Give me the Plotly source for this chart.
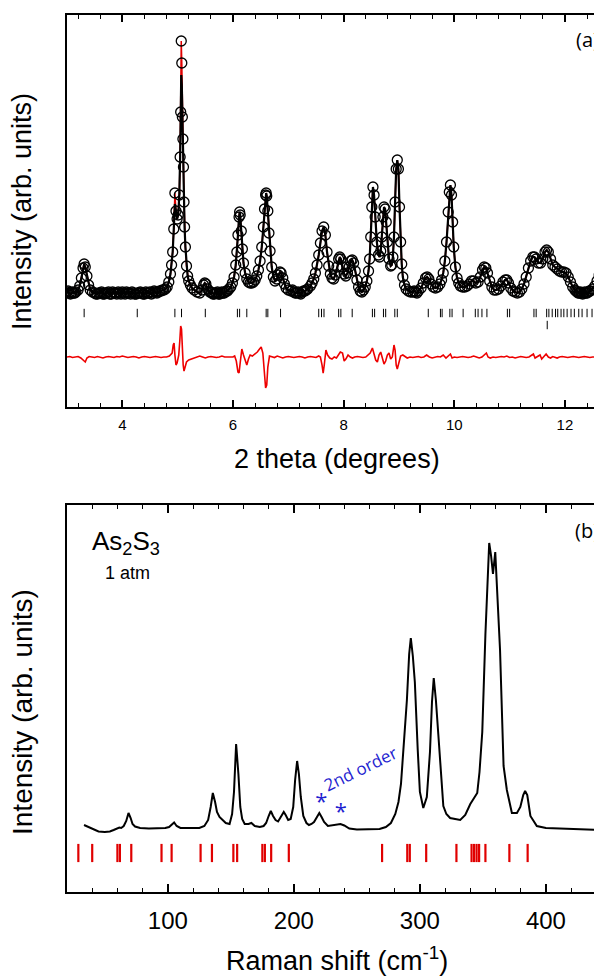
import plotly.graph_objects as go

# ---------------- (a) X-ray diffraction, read segment by segment ----------------
tth_a = [3.00,3.02,3.04,3.06,3.08,3.10,3.12,3.14,3.16,3.20,3.23,3.26,3.29,3.31,3.33,3.36,3.39,3.42,3.46,3.50]
obs_a = [115,116,114,113,114,115,114,114,115,117,121,129,139,143,140,131,122,117,115,114]

tth_b = [3.525,3.55,3.575,3.60,3.625,3.65,3.675,3.70,3.725,3.75,3.775,3.80,3.825,3.85,3.875,3.90,3.925,3.95,3.975,4.00,
         4.025,4.05,4.075,4.10,4.125,4.15,4.175,4.20,4.225,4.25,4.275,4.30,4.325,4.35,4.375,4.40,4.425,4.45,4.475,4.50,
         4.525,4.55,4.575,4.60,4.625,4.65,4.675,4.70,4.725,4.75]
obs_b = [113,113,114,114,115,113,113,114,114,115,113,113,115,114,114,113,115,114,113,115,
         114,113,115,114,114,113,115,114,113,113,114,114,115,114,113,113,115,114,114,115,
         113,114,116,115,114,115,116,116,117,117]

tth_c = [4.78,4.81,4.84,4.87,4.89,4.91,4.93,4.95,4.97,4.99,5.01,5.03,5.045,5.055,5.065,5.075,5.085,5.095,5.105,5.115,
         5.125,5.14,5.16,5.18,5.20,5.23,5.26,5.30,5.35]
obs_c = [118,120,125,133,142,155,178,214,196,188,192,212,250,295,366,344,290,268,240,205,
         180,160,141,131,126,122,119,117,115]
calc_c = [118,120,125,133,142,155,178,203,196,188,192,212,250,295,332,322,290,268,240,205,
          180,160,141,131,126,122,119,117,115]

tth_d = [5.40,5.44,5.47,5.49,5.51,5.54,5.58,5.60,5.62,5.64,5.66,5.68,5.70,5.72,5.74,5.76,5.78,5.80,5.82,5.84,5.86,5.88,5.90,5.93]
obs_d = [114,117,122,124,123,118,115,115,114,113,113,114,114,115,113,113,114,115,114,114,115,116,116,118]

tth_e = [5.96,5.99,6.02,6.05,6.07,6.09,6.11,6.12,6.13,6.15,6.17,6.19,6.22,6.25,6.28,6.31,6.34,6.37,6.40,6.43,
         6.46,6.49,6.52,6.55,6.57,6.59,6.60,6.61,6.63,6.65,6.67,6.70,6.73,6.76,6.79,6.82,6.85,6.87,6.90,6.93,6.96,7.00]
obs_e = [120,124,130,142,155,172,190,195,192,176,158,144,134,128,125,124,124,125,127,131,
         137,146,160,180,198,212,214,211,196,174,156,140,130,126,128,132,135,134,129,123,119,117]

tth_f = [7.05,7.075,7.10,7.125,7.15,7.175,7.20,7.225,7.25,7.275,7.30,7.325,7.35,7.40]
obs_f = [116,117,115,114,114,115,114,113,115,116,116,117,118,121]

tth_g = [7.43,7.46,7.49,7.52,7.55,7.58,7.61,7.64,7.67,7.70,7.73,7.76,7.79,7.82,7.85,7.88,7.91,7.93,7.95,7.98,
         8.01,8.04,8.07,8.10,8.13,8.155,8.18,8.21,8.24,8.27,8.30]
obs_g = [124,128,134,142,152,164,176,180,172,155,141,133,129,128,132,140,148,150,148,140,
         133,131,134,140,146,147,144,136,127,120,116]

tth_h = [8.33,8.36,8.39,8.42,8.45,8.47,8.49,8.51,8.53,8.55,8.57,8.60,8.63,8.65,8.67,8.69,8.71,8.73,8.75,8.77,
         8.79,8.82,8.85,8.87,8.89,8.91,8.93,8.95,8.97,8.99,9.01,9.03,9.05,9.07,9.10,9.13,9.17,9.21]
obs_h = [115,117,120,126,136,148,170,200,220,212,190,165,152,150,156,170,190,200,198,185,
         165,148,141,142,150,170,205,238,247,238,200,165,143,130,122,118,116,115]

tth_i = [9.25,9.275,9.30,9.325,9.35,9.40,9.44,9.48,9.51,9.54,9.58,9.62,9.66,9.70,9.74,9.77,9.80,9.83,9.86,9.89,
         9.91,9.93,9.95,9.97,9.99,10.02,10.05,10.08,10.11,10.15]
obs_i = [115,116,115,114,116,119,124,129,130,128,123,120,119,120,123,127,134,146,165,195,
         215,222,212,185,160,140,129,124,121,120]

tth_j = [10.19,10.23,10.27,10.31,10.35,10.39,10.43,10.47,10.51,10.54,10.57,10.60,10.64,10.68,10.72,10.76,10.80,10.84,10.88,10.92,
         10.95,10.98,11.02,11.06,11.10,11.14]
obs_j = [120,121,123,126,126,124,125,130,137,140,139,134,126,120,117,117,118,121,125,127,
         127,124,119,116,115,114]

tth_k = [11.18,11.22,11.26,11.30,11.34,11.38,11.42,11.45,11.48,11.52,11.56,11.60,11.64,11.67,11.70,11.74,11.78,11.82,11.86,11.90,
         11.94,11.98,12.02,12.06,12.10,12.14,12.18,12.20,12.22,12.24,12.26,12.28,12.30,12.32,12.34,12.36,12.38,12.40,12.42,12.44,
         12.46,12.50,12.54,12.58,12.62,12.66,12.70]
obs_k = [115,118,123,130,139,146,150,150,148,144,144,148,155,157,155,148,142,140,138,136,
         135,135,134,130,125,120,117,116,115,114,114,115,114,113,114,115,114,114,115,116,
         116,118,121,126,132,138,143]

tth = tth_a + tth_b + tth_c + tth_d + tth_e + tth_f + tth_g + tth_h + tth_i + tth_j + tth_k
int_obs = obs_a + obs_b + obs_c + obs_d + obs_e + obs_f + obs_g + obs_h + obs_i + obs_j + obs_k
# the calculated profile coincides with the observed one except around the strongest reflection
int_calc = obs_a + obs_b + calc_c + obs_d + obs_e + obs_f + obs_g + obs_h + obs_i + obs_j + obs_k

tth_diff = [3.00,3.05,3.10,3.15,3.20,3.25,3.30,3.33,3.36,3.40,3.45,3.50,3.55,3.60,3.65,3.70,3.75,3.80,3.85,3.90,3.95,4.00,4.05,4.10,4.15,4.20,4.25,4.30,4.35,4.40,4.45,4.50,4.55,4.60,4.65,4.70,4.75,4.80,4.85,4.90,4.92,4.935,4.95,4.97,4.99,5.02,5.04,5.055,5.07,5.085,5.10,5.115,5.13,5.16,5.20,5.25,5.30,5.35,5.40,5.45,5.50,5.55,5.60,5.65,5.70,5.75,5.80,5.85,5.90,5.95,6.00,6.03,6.06,6.09,6.11,6.13,6.16,6.19,6.22,6.25,6.28,6.31,6.35,6.40,6.44,6.48,6.51,6.54,6.57,6.59,6.61,6.63,6.66,6.70,6.75,6.80,6.85,6.90,6.95,7.00,7.05,7.10,7.15,7.20,7.25,7.30,7.35,7.40,7.45,7.50,7.55,7.58,7.61,7.63,7.65,7.68,7.71,7.75,7.79,7.83,7.87,7.90,7.94,7.98,8.01,8.04,8.08,8.12,8.16,8.20,8.25,8.30,8.35,8.40,8.44,8.48,8.52,8.55,8.58,8.61,8.64,8.67,8.70,8.73,8.76,8.79,8.82,8.85,8.88,8.91,8.93,8.95,8.97,9.00,9.03,9.07,9.11,9.15,9.20,9.25,9.30,9.35,9.40,9.45,9.50,9.55,9.60,9.65,9.70,9.75,9.80,9.85,9.90,9.93,9.96,10.00,10.05,10.10,10.15,10.20,10.25,10.30,10.35,10.40,10.45,10.50,10.55,10.58,10.61,10.65,10.70,10.75,10.80,10.85,10.90,10.95,11.00,11.05,11.10,11.15,11.20,11.25,11.30,11.35,11.40,11.43,11.46,11.50,11.55,11.58,11.62,11.66,11.70,11.74,11.78,11.82,11.86,11.90,11.95,12.00,12.05,12.10,12.15,12.20,12.25,12.30,12.35,12.40,12.45,12.50,12.55,12.60,12.65,12.70]
int_diff = [50,50.5,49.5,50,50.5,49,46,45,49,50.5,50,49.5,50.5,50,49,50,50.5,50,49.5,50.5,50,51,50,49.5,50,50.5,50,49,50,50.5,50,49.5,50,50.5,50,49.5,50,50,51,54,62,64,52,42,44,52,67,81,78,57,42,36,40,45,47,48,49,50,51,50,49,50,50.5,50,49.5,50,51,50,50,49.5,50,51,46,35,34,44,58,52,46,42,48,52,51,53,55,58,60,54,32,19,22,40,51,50,49.5,51,50,49,50,50.5,50,49.5,50,50.5,50,49,50,50.5,50,49.5,51,50,42,34,42,57,52,49,48,50,49,52,55,54,46,48,52,50,49,50,50.5,50,49.5,50,52,54,59,52,47,45,52,55,49,43,46,52,54,48,50,62,57,42,38,44,51,52,50,49,50,49.5,50,50.5,49.5,50,52,50,49,50,50.5,50,52,49,51,53,49,50,49.5,50,50.5,50,49.5,50,51,50,49,50,52,54,50,49,50,49.5,50,50.5,50,51,49.5,50,49,50,50.5,50,49.5,50,52,53,49,50,52,48,51,53,50,49,50.5,50,49,50,50.5,50,49.5,50,50.5,50,49.5,50,50.5,50,49.5,50,50,51,50,50]

bragg_main = [3.31,4.27,4.95,5.07,5.50,6.08,6.12,6.25,6.60,6.63,6.86,7.55,7.60,7.645,7.91,7.95,8.155,8.52,8.56,8.72,8.76,8.925,8.97,9.53,9.75,9.78,9.92,9.96,10.16,10.38,10.43,10.50,10.59,10.96,11.00,11.44,11.48,11.67,11.71,11.77,11.83,11.87,11.93,11.98,12.04,12.11,12.17,12.25,12.31,12.40,12.49,12.55,12.65]
bragg_second = [11.68]
bragg_main_level = 94
bragg_second_level = 82

# ---------------- (b) Raman ----------------
raman_shift = [33.5,37,41,45,50,54,57,60,61.5,63,65,67,68.8,70.5,72,74,78,85,92,98,101,103,105,107,110,118,125,129,132,134,135.7,137.5,139,141,143.5,146,149,151,152.5,154.2,156,157.5,159,161,164,166.3,169,173,176,178,180,181.7,183.5,185.5,187.5,190,192,193.5,195.5,197.5,199.5,201,202.6,204,205.5,207.5,210,212,214,216,218.3,220.2,222,224,227,231,234,237,240,244,250,260,268,273,277,280.5,283,285,287.5,289.7,291.5,292.8,294.4,296,298.3,300,302.7,305.5,308,309.6,311,312.7,314.6,317,318.6,321,324,328,332,336,340,343,345.5,347.3,349.5,352,353.6,355,356.5,358,359.8,361.4,363.6,366.4,369,373,377,379.7,382,383.5,385.2,387.7,392.8,400,410,420,430,445]
raman_int = [67,65,62.5,60.5,60,60.5,62,63.5,64.5,64,66,71,79,74,68,65.5,64,63.5,63.5,64,65,67,69.5,66,64,64,64,66,72,85,99,90,80,75,72,69,68,78,100,148,118,85,73,68,68,69,66,65,66,69,76,81,76,72,70.5,76,80,77,72,73,85,112,131,118,95,76,69,67,68,70,75,79,75,70,66,66.5,67,68,66.5,63.5,62.5,62.5,63,65,69,78,90,108,148,192,238,254,236,210,142,100,84,95,140,190,214,192,158,110,86,78,74,73,72,77,88,94,99,120,160,258,318,349,336,318,340,300,242,126,102,79,79,85,97,101,97,76,66,64,63.5,62.5,62.5,62]
raman_modes = [29,40,60,62,71,95,103,126,135,152,155,175,177,182,196,270,290,292,305,329,341,343,345,347,352,371,385.5]
raman_mode_level = 39
star_shift = [221.8,237.2]
star_int = [88.7,78.7]

FONT = "Liberation Sans, Arial, sans-serif"
BLUE = "#1f1fd0"

fig = go.Figure()
fig.add_trace(go.Scatter(x=tth, y=int_obs, mode="lines", line=dict(color="#e00000", width=1.5),
                         xaxis="x", yaxis="y", hoverinfo="skip"))
fig.add_trace(go.Scatter(x=tth, y=int_obs, mode="markers",
                         marker=dict(symbol="circle-open", size=10, color="black", line=dict(width=1.3)),
                         xaxis="x", yaxis="y"))
fig.add_trace(go.Scatter(x=tth, y=int_calc, mode="lines", line=dict(color="black", width=2.2),
                         xaxis="x", yaxis="y"))
fig.add_trace(go.Scatter(x=tth_diff, y=int_diff, mode="lines", line=dict(color="#ee0000", width=1.6),
                         xaxis="x", yaxis="y"))
fig.add_trace(go.Scatter(x=bragg_main, y=[bragg_main_level] * len(bragg_main), mode="markers",
                         marker=dict(symbol="line-ns", size=6, line=dict(color="black", width=1)),
                         xaxis="x", yaxis="y"))
fig.add_trace(go.Scatter(x=bragg_second, y=[bragg_second_level] * len(bragg_second), mode="markers",
                         marker=dict(symbol="line-ns", size=6, line=dict(color="black", width=1)),
                         xaxis="x", yaxis="y"))

fig.add_trace(go.Scatter(x=raman_shift, y=raman_int, mode="lines", line=dict(color="black", width=2),
                         xaxis="x2", yaxis="y2"))
fig.add_trace(go.Scatter(x=raman_modes, y=[raman_mode_level] * len(raman_modes), mode="markers",
                         marker=dict(symbol="line-ns", size=13, line=dict(color="#e00000", width=2.2)),
                         xaxis="x2", yaxis="y2"))
fig.add_trace(go.Scatter(x=star_shift, y=star_int, mode="text", text=["*", "*"],
                         textfont=dict(family="Open Sans", size=22, color=BLUE),
                         xaxis="x2", yaxis="y2"))

axis_common = dict(showline=True, linewidth=2, linecolor="black", mirror="allticks",
                   ticks="inside", tickcolor="black", showgrid=False, zeroline=False)

# the page body adds an 8 px offset, so the figure is 594 x 968
fig.update_layout(
    width=594, height=968,
    margin=dict(l=59, r=0, t=7, b=84),
    paper_bgcolor="white", plot_bgcolor="white",
    showlegend=False,
    xaxis=dict(**axis_common, anchor="y", domain=[0, 1], range=[3.0, 12.67],
               tickvals=[4, 6, 8, 10, 12], ticklen=7, tickwidth=1.5,
               minor=dict(dtick=0.4, tick0=0, ticks="inside", ticklen=4, tickwidth=1.2, tickcolor="black"),
               tickfont=dict(family=FONT, size=15, color="black"), ticklabelstandoff=3),
    yaxis=dict(anchor="x", domain=[0.553, 1], range=[0, 392], showline=True, linewidth=2,
               linecolor="black", mirror=False, ticks="", showticklabels=False,
               showgrid=False, zeroline=False),
    xaxis2=dict(**axis_common, anchor="y2", domain=[0, 1], range=[20, 444.5],
                tickvals=[100, 200, 300, 400], ticklen=8, tickwidth=1.5,
                minor=dict(dtick=20, tick0=0, ticks="inside", ticklen=4, tickwidth=1.2, tickcolor="black"),
                tickfont=dict(family=FONT, size=24, color="black"), ticklabelstandoff=6),
    yaxis2=dict(anchor="x2", domain=[0, 0.4413], range=[0, 387], showline=True, linewidth=2,
                linecolor="black", mirror=False, ticks="", showticklabels=False,
                showgrid=False, zeroline=False),
)

def px_x(p):
    return (p - 67) / 535.0

def px_y(p):
    return (892 - p) / 877.0

ann = [
    dict(text="Intensity (arb. units)", x=px_x(22), y=px_y(212), textangle=-90,
         font=dict(family=FONT, size=27, color="black")),
    dict(text="Intensity (arb. units)", x=px_x(22), y=px_y(712), textangle=-90,
         font=dict(family=FONT, size=28, color="black")),
    dict(text="2 theta (degrees)", x=px_x(337), y=px_y(459),
         font=dict(family=FONT, size=27, color="black")),
    dict(text="Raman shift (cm<sup>-1</sup>)", x=px_x(337), y=px_y(959),
         font=dict(family=FONT, size=27, color="black")),
    dict(text="(a)", x=px_x(587), y=px_y(40), font=dict(family="Open Sans", size=20, color="black")),
    dict(text="(b)", x=px_x(587), y=px_y(530), font=dict(family="Open Sans", size=20, color="black")),
    dict(text="As<sub>2</sub>S<sub>3</sub>", x=px_x(90), y=px_y(542), xanchor="left",
         font=dict(family=FONT, size=26, color="black")),
    dict(text="1 atm", x=px_x(103), y=px_y(573), xanchor="left",
         font=dict(family=FONT, size=18, color="black")),
    dict(text="2nd order", x=253, y=123, xref="x2", yref="y2", textangle=-26,
         font=dict(family="Open Sans", size=17, color=BLUE)),
]
for a in ann:
    a.setdefault("xref", "paper")
    a.setdefault("yref", "paper")
    a.setdefault("xanchor", "center")
    a.setdefault("yanchor", "middle")
    a["showarrow"] = False
fig.update_layout(annotations=ann)

fig.write_html("out.html")
